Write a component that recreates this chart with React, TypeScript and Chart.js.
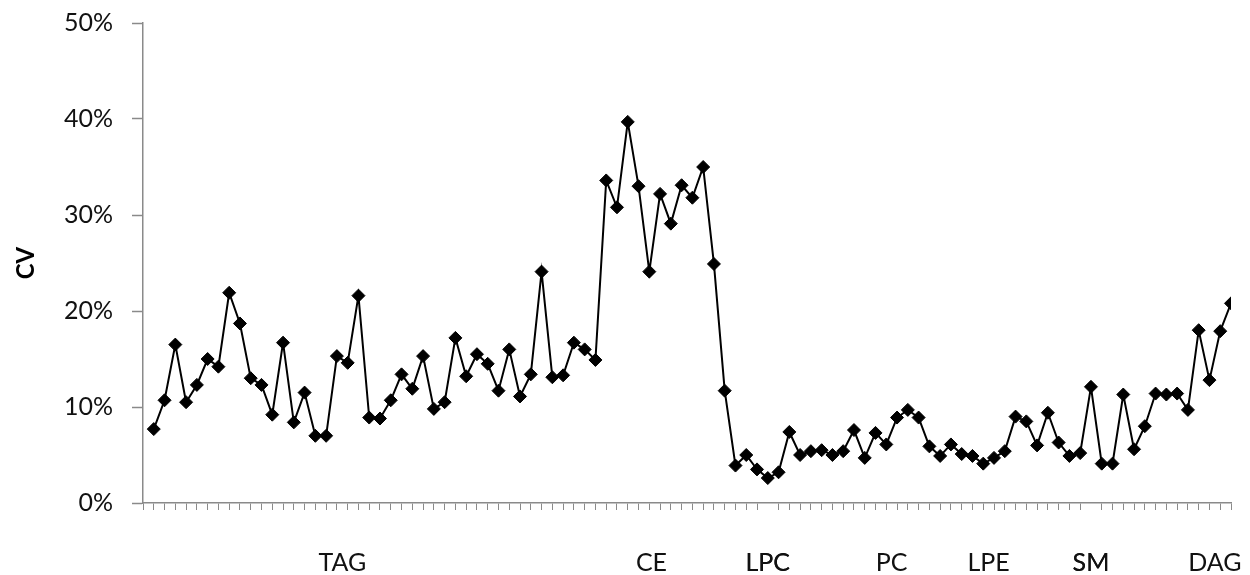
import React, { useEffect, useRef } from "react";
import { Chart, registerables } from "chart.js";

Chart.register(...registerables);

// CV values (%) for each lipid species, in order
const cvValues: number[] = [
  7.7, 10.7, 16.5, 10.5, 12.3, 15.0, 14.2, 21.9, 18.7, 13.0,
  12.3, 9.2, 16.7, 8.4, 11.5, 7.0, 7.0, 15.3, 14.6, 21.6,
  8.9, 8.8, 10.7, 13.4, 11.9, 15.3, 9.8, 10.5, 17.2, 13.2,
  15.5, 14.5, 11.7, 16.0, 11.1, 13.4, 24.1, 13.1, 13.3, 16.7,
  16.0, 14.9, 33.6, 30.8, 39.7, 33.0, 24.1, 32.2, 29.1, 33.1,
  31.8, 35.0, 24.9, 11.7, 3.9, 5.0, 3.5, 2.6, 3.2, 7.4,
  5.0, 5.4, 5.5, 5.0, 5.4, 7.6, 4.7, 7.3, 6.1, 8.9,
  9.7, 8.9, 5.9, 4.9, 6.1, 5.1, 4.9, 4.1, 4.7, 5.4,
  9.0, 8.5, 6.0, 9.4, 6.3, 4.9, 5.2, 12.1, 4.1, 4.1,
  11.3, 5.6, 8.0, 11.4, 11.3, 11.4, 9.7, 18.0, 12.8, 17.9,
  20.8,
];

// Lipid class group labels and their (category-index) centres
const groupNames: string[] = ["TAG", "CE", "LPC", "PC", "LPE", "SM", "DAG"];
const groupCentres: number[] = [17.5, 46.2, 57, 68.5, 77.5, 87, 98.5];

// Y-axis ticks (%)
const yTicks: number[] = [0, 10, 20, 30, 40, 50];

const FONT = "Lato, 'Liberation Sans', sans-serif";
const AXIS_GRAY = "#8a8a8a";

export default function App() {
  const canvasRef = useRef<HTMLCanvasElement | null>(null);

  useEffect(() => {
    const canvas = canvasRef.current;
    if (!canvas) return;
    const points = cvValues.map((v, i) => ({ x: i, y: v }));
    const n = cvValues.length;
    const groupSet = new Set(groupCentres);

    const chart = new Chart(canvas, {
      type: "line",
      data: {
        datasets: [
          {
            data: points,
            borderColor: "#000000",
            borderWidth: 2,
            pointStyle: "rectRot",
            pointRadius: 6.5,
            pointBackgroundColor: "#000000",
            pointBorderColor: "#000000",
            pointBorderWidth: 1,
            tension: 0,
          },
        ],
      },
      options: {
        animation: false,
        responsive: false,
        devicePixelRatio: 1,
        layout: { padding: { top: 23, right: 19, left: 0, bottom: 0 } },
        plugins: {
          legend: { display: false },
          tooltip: { enabled: false },
        },
        scales: {
          x: {
            type: "linear",
            position: "bottom",
            min: -1,
            max: n - 1,
            afterBuildTicks: (scale: any) => {
              const ticks: { value: number }[] = [];
              for (let i = -1; i <= n - 1; i++) ticks.push({ value: i });
              groupCentres.forEach((g) => ticks.push({ value: g }));
              ticks.sort((a, b) => a.value - b.value);
              scale.ticks = ticks;
            },
            afterFit: (scale: any) => {
              scale.height = 72;
              scale.paddingLeft = 0;
              scale.paddingRight = 0;
            },
            ticks: {
              autoSkip: false,
              maxRotation: 0,
              minRotation: 0,
              padding: 38,
              color: "#111111",
              font: { family: FONT, size: 25 },
              callback: (value: any) => {
                const idx = groupCentres.indexOf(Number(value));
                return idx >= 0 ? groupNames[idx] : "";
              },
            },
            grid: {
              drawOnChartArea: false,
              drawTicks: true,
              tickLength: 7,
              tickWidth: 1,
              tickColor: (ctx: any) =>
                ctx.tick && groupSet.has(ctx.tick.value) ? "rgba(0,0,0,0)" : AXIS_GRAY,
            },
            border: { display: true, color: AXIS_GRAY, width: 1.5 },
          },
          y: {
            type: "linear",
            min: 0,
            max: 50,
            afterBuildTicks: (scale: any) => {
              scale.ticks = yTicks.map((v) => ({ value: v }));
            },
            afterFit: (scale: any) => {
              scale.width = 143;
              scale.paddingTop = 0;
              scale.paddingBottom = 0;
            },
            ticks: {
              padding: 19,
              color: "#111111",
              font: { family: FONT, size: 25 },
              callback: (value: any) => `${value}%`,
            },
            grid: {
              drawOnChartArea: false,
              drawTicks: true,
              tickLength: 11,
              tickWidth: 1.5,
              tickColor: AXIS_GRAY,
            },
            border: { display: true, color: AXIS_GRAY, width: 1.5 },
            title: {
              display: true,
              text: "CV",
              color: "#000000",
              font: { family: FONT, size: 24, weight: "bold" },
              padding: { top: 12, bottom: 0 },
            },
          },
        },
      },
    });

    return () => {
      chart.destroy();
    };
  }, []);

  return (
    <div
      style={{
        position: "fixed",
        left: 0,
        top: 0,
        width: 1250,
        height: 575,
        background: "#ffffff",
      }}
    >
      <canvas ref={canvasRef} width={1250} height={575} style={{ display: "block" }} />
    </div>
  );
}
